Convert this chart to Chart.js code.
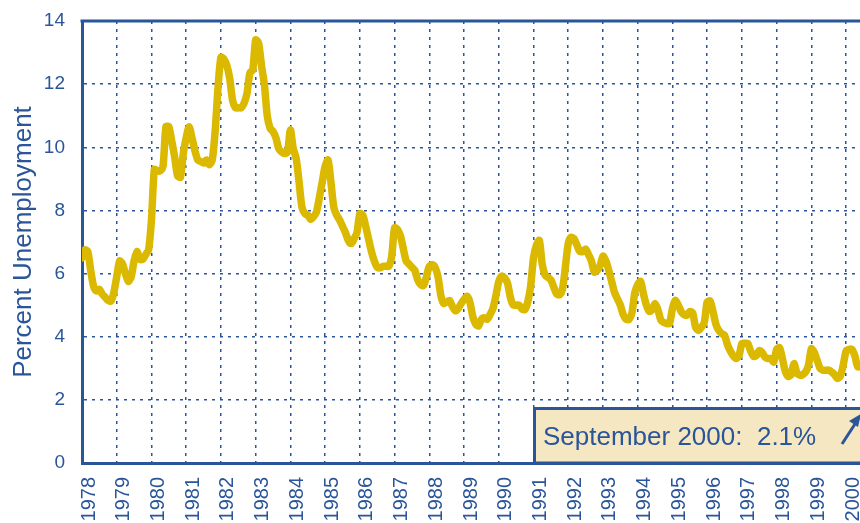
<!DOCTYPE html>
<html>
<head>
<meta charset="utf-8">
<script src="https://cdn.jsdelivr.net/npm/chart.js@4"></script>
<style>
  html, body { margin: 0; padding: 0; background: #fff; overflow: hidden; }
  #wrap { width: 860px; height: 523px; }
</style>
</head>
<body>
<div id="wrap"><canvas id="c" width="860" height="523"></canvas></div>
<script>
// ---- data (monthly, Jan 1978 onward) ----
const startYear = 1978;
const yearLabels = ['1978','1979','1980','1981','1982','1983','1984','1985','1986','1987','1988',
  '1989','1990','1991','1992','1993','1994','1995','1996','1997','1998','1999','2000'];
const yTicks = [0, 2, 4, 6, 8, 10, 12, 14];
const unemployment = [
  // 1978
  6.5, 6.75, 6.7, 6.1, 5.6, 5.45, 5.5, 5.35, 5.25, 5.15, 5.13, 5.4,
  // 1979
  5.9, 6.4, 6.3, 6.0, 5.75, 5.9, 6.4, 6.7, 6.45, 6.45, 6.6, 6.75,
  // 1980
  7.7, 9.3, 9.25, 9.25, 9.4, 10.65, 10.65, 10.2, 9.7, 9.1, 9.05, 9.8,
  // 1981
  10.3, 10.65, 10.3, 9.9, 9.6, 9.55, 9.5, 9.6, 9.45, 9.6, 10.5, 11.9,
  // 1982
  12.85, 12.8, 12.6, 12.2, 11.5, 11.25, 11.25, 11.25, 11.4, 11.7, 12.35, 12.45,
  // 1983
  13.4, 13.3, 12.6, 12.0, 11.0, 10.6, 10.5, 10.3, 9.95, 9.85, 9.8, 9.85,
  // 1984
  10.55, 9.95, 9.65, 8.9, 8.1, 7.9, 7.85, 7.72, 7.8, 7.95, 8.4, 8.9,
  // 1985
  9.4, 9.6, 8.9, 8.1, 7.85, 7.7, 7.5, 7.3, 7.05, 6.95, 7.1, 7.3,
  // 1986
  7.9, 7.85, 7.5, 7.1, 6.7, 6.4, 6.2, 6.18, 6.23, 6.23, 6.23, 6.55,
  // 1987
  7.45, 7.4, 7.2, 6.8, 6.4, 6.3, 6.2, 6.1, 5.8, 5.65, 5.62, 5.9,
  // 1988
  6.23, 6.28, 6.2, 5.9, 5.3, 5.05, 5.1, 5.15, 4.95, 4.82, 4.9, 5.05,
  // 1989
  5.18, 5.28, 5.1, 4.65, 4.4, 4.34, 4.55, 4.6, 4.55, 4.7, 4.9, 5.3,
  // 1990
  5.75, 5.92, 5.86, 5.7, 5.25, 5.0, 5.0, 5.0, 4.88, 4.86, 5.1, 5.6,
  // 1991
  6.5, 6.9, 7.05, 6.3, 5.95, 5.88, 5.8, 5.57, 5.35, 5.33, 5.5, 6.2,
  // 1992
  6.95, 7.15, 7.1, 6.9, 6.7, 6.7, 6.78, 6.6, 6.4, 6.05, 6.1, 6.25,
  // 1993
  6.55, 6.4, 6.1, 5.75, 5.4, 5.2, 5.0, 4.7, 4.55, 4.55, 4.75, 5.4,
  // 1994
  5.65, 5.75, 5.35, 5.0, 4.8, 4.85, 5.05, 4.85, 4.52, 4.45, 4.42, 4.42,
  // 1995
  4.9, 5.15, 5.0, 4.8, 4.7, 4.68, 4.8, 4.75, 4.3, 4.2, 4.3, 4.45,
  // 1996
  5.1, 5.13, 4.8, 4.4, 4.2, 4.1, 4.05, 3.75, 3.55, 3.4, 3.31, 3.4,
  // 1997
  3.78, 3.79, 3.79, 3.55, 3.38, 3.4, 3.56, 3.5, 3.35, 3.31, 3.31, 3.2,
  // 1998
  3.6, 3.65, 3.3, 2.9, 2.74, 2.8, 3.15, 2.85, 2.78, 2.8, 2.88, 3.1,
  // 1999
  3.62, 3.5, 3.25, 3.0, 2.94, 2.94, 2.94, 2.88, 2.8, 2.68, 2.75, 3.1,
  // 2000
  3.55, 3.6, 3.6, 3.4, 3.05, 3.05
];
const annotationText = 'September 2000:  2.1%';

// ---- styling ----
const BLUE = '#2a5699';
const GOLD = '#dab900';
const BEIGE = '#f6e7c3';
const FONT = '"Liberation Sans", Arial, Helvetica, sans-serif';

const points = unemployment.map((v, i) => ({ x: startYear + i / 12, y: v }));

function zeroPadding(scale) {
  scale.paddingLeft = 0;
  scale.paddingRight = 0;
  scale.paddingTop = 0;
  scale.paddingBottom = 0;
}

const framePlugin = {
  id: 'frame',
  beforeDraw(chart) {
    const { ctx } = chart;
    ctx.save();
    ctx.fillStyle = '#fff';
    ctx.fillRect(0, 0, chart.width, chart.height);
    ctx.restore();
  },
  beforeDatasetsDraw(chart) {
    const { ctx, chartArea } = chart;
    ctx.save();
    ctx.strokeStyle = BLUE;
    ctx.lineWidth = 3;
    ctx.beginPath();
    ctx.moveTo(chartArea.left - 1.5, chartArea.top);
    ctx.lineTo(chart.width, chartArea.top);
    ctx.stroke();
    ctx.restore();
  },
  afterDraw(chart) {
    const { ctx, chartArea } = chart;
    const x0 = 534.5, y0 = 408.5, y1 = chartArea.bottom;
    ctx.save();
    ctx.fillStyle = BEIGE;
    ctx.fillRect(x0, y0, chart.width - x0 + 5, y1 - y0);
    ctx.strokeStyle = BLUE;
    ctx.lineWidth = 3;
    ctx.strokeRect(x0, y0, chart.width - x0 + 10, y1 - y0);
    ctx.fillStyle = BLUE;
    ctx.font = '26px ' + FONT;
    ctx.textBaseline = 'alphabetic';
    ctx.textAlign = 'left';
    ctx.fillText(annotationText, 543, 445);
    // arrow
    ctx.lineWidth = 3;
    ctx.beginPath();
    ctx.moveTo(842, 444);
    ctx.lineTo(855, 424);
    ctx.stroke();
    ctx.beginPath();
    ctx.moveTo(861, 414);
    ctx.lineTo(849, 421);
    ctx.lineTo(858, 427);
    ctx.closePath();
    ctx.fill();
    ctx.restore();
  }
};

new Chart(document.getElementById('c'), {
  type: 'line',
  data: {
    datasets: [{
      data: points,
      borderColor: GOLD,
      borderWidth: 7.5,
      pointRadius: 0,
      tension: 0.25,
      borderJoinStyle: 'round',
      borderCapStyle: 'round',
      fill: false
    }]
  },
  options: {
    responsive: false,
    animation: false,
    devicePixelRatio: 1,
    layout: { padding: { top: 21, right: 0, bottom: 0, left: 0 } },
    plugins: { legend: { display: false }, tooltip: { enabled: false } },
    scales: {
      x: {
        type: 'linear',
        min: startYear,
        max: 2000.4,
        afterFit(scale) { scale.height = 60; zeroPadding(scale); },
        afterBuildTicks(scale) {
          scale.ticks = yearLabels.map((l, i) => ({ value: startYear + i }));
        },
        ticks: {
          stepSize: 1,
          autoSkip: false,
          maxRotation: 90,
          minRotation: 90,
          padding: 14,
          labelOffset: 7,
          color: BLUE,
          font: { family: FONT, size: 20 },
          callback(v) { return yearLabels[Math.round(v - startYear)] ?? ''; }
        },
        grid: {
          color: BLUE,
          lineWidth: 1.5,
          drawTicks: false
        },
        border: { display: true, color: BLUE, width: 3, dash: [3, 5] }
      },
      y: {
        min: 0,
        max: 14,
        afterFit(scale) { scale.width = 82; zeroPadding(scale); },
        afterBuildTicks(scale) {
          scale.ticks = yTicks.map(v => ({ value: v }));
        },
        ticks: {
          stepSize: 2,
          padding: 17,
          color: BLUE,
          font: { family: FONT, size: 19 },
          callback(v) { return String(v); }
        },
        grid: {
          color: BLUE,
          lineWidth: 1.5,
          drawTicks: false
        },
        border: { display: true, color: BLUE, width: 3, dash: [3, 5] },
        title: {
          display: true,
          text: 'Percent Unemployment',
          color: BLUE,
          font: { family: FONT, size: 26 },
          padding: { top: 8, bottom: 0 }
        }
      }
    }
  },
  plugins: [framePlugin]
});
</script>
</body>
</html>
